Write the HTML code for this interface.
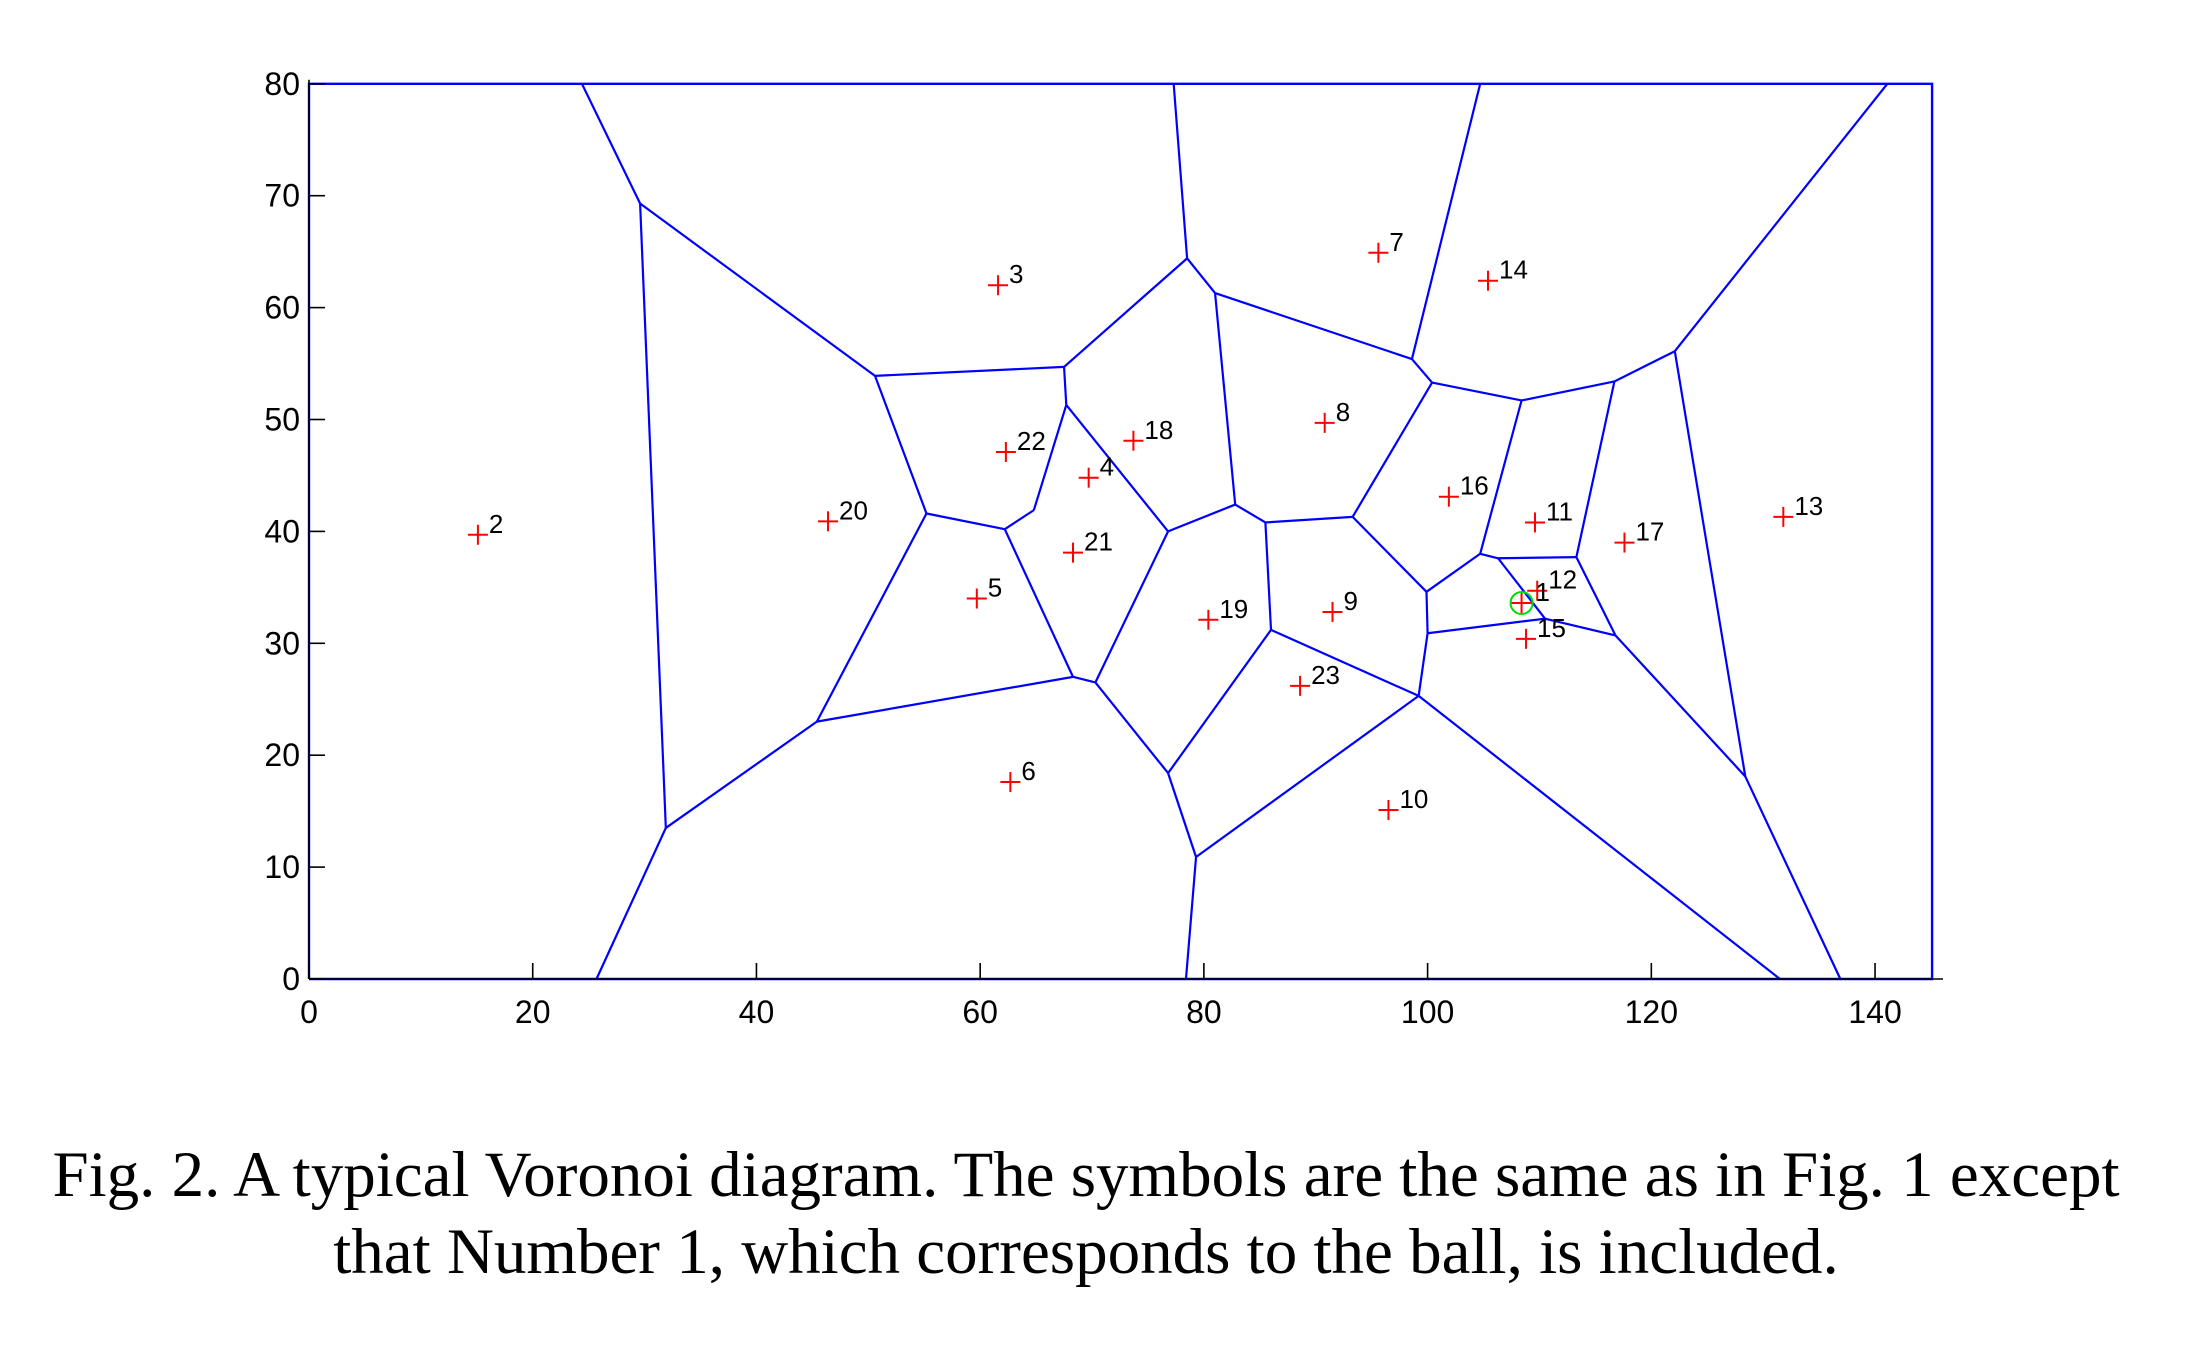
<!DOCTYPE html>
<html><head><meta charset="utf-8"><style>
html,body{margin:0;padding:0;background:#fff;}
svg{display:block;}
</style></head><body>
<svg id="chart" width="2186" height="1360" viewBox="0 0 2186 1360" xmlns="http://www.w3.org/2000/svg">
<g id="edges"></g>
<g id="axes"></g>
<g id="pts"></g>
<text x="1086" y="1196" text-anchor="middle" font-family="Liberation Serif, serif" font-size="65">Fig. 2.  A typical Voronoi diagram. The symbols are the same as in Fig. 1 except</text>
<text x="1086" y="1273" text-anchor="middle" font-family="Liberation Serif, serif" font-size="65">that Number 1, which corresponds to the ball, is included.</text>
</svg>
<script>
const xTicks=[0,20,40,60,80,100,120,140];
const yTicks=[0,10,20,30,40,50,60,70,80];
const pointIds=[2,3,4,5,6,7,8,9,10,11,12,13,14,15,16,17,18,19,20,21,22,23,1];
const pointX=[15.1,61.6,69.7,59.7,62.7,95.6,90.8,91.5,96.5,109.6,109.8,131.8,105.4,108.8,101.9,117.6,73.7,80.4,46.4,68.3,62.3,88.6,108.4];
const pointY=[39.7,62.0,44.8,34.0,17.6,64.9,49.7,32.8,15.1,40.8,34.7,41.3,62.4,30.4,43.1,39.0,48.1,32.1,40.9,38.1,47.1,26.2,33.6];
const vName=["A","B","C","D","E","F","G","H","I","J","K","L","M","N","O","P","Q","R","S","T","U","V","W","X","Y","Z","AA","AB","AC","AD","AE","AF","AG","AH","AI","AJ","AK","AL","AM","AN","AO","AP"];
const vX=[24.4,29.6,50.6,67.5,78.5,77.3,81.0,98.6,104.7,100.4,108.4,116.7,122.1,141.1,67.7,64.8,62.2,55.2,76.8,82.8,85.5,93.3,99.9,104.7,113.3,106.3,110.5,100.0,116.8,99.2,86.0,76.8,70.3,68.3,45.4,31.9,25.7,79.3,78.4,128.4,131.5,136.9];
const vY=[80,69.3,53.9,54.7,64.4,80,61.3,55.4,80,53.3,51.7,53.4,56.1,80,51.3,41.9,40.2,41.6,40.0,42.4,40.8,41.3,34.6,38.0,37.7,37.6,32.2,30.9,30.7,25.3,31.2,18.4,26.5,27.0,23.0,13.5,0,10.9,0,18.1,0,0];
const edgeList=["A-B","B-C","B-AJ","C-D","C-R","D-E","D-O","E-F","E-G","G-H","G-T","H-I","H-J","J-K","J-V","K-L","K-X","L-M","L-Y","M-N","M-AN","O-P","O-S","P-Q","Q-R","Q-AH","R-AI","S-T","S-AG","T-U","U-V","U-AE","V-W","W-X","W-AB","X-Z","Z-Y","Y-AC","Z-AA","AA-AB","AA-AC","AB-AD","AC-AN","AD-AE","AD-AL","AD-AO","AE-AF","AF-AG","AF-AL","AG-AH","AH-AI","AI-AJ","AJ-AK","AL-AM","AN-AP"];
const xMax=145.1;
const sx=v=>309+v*11.186;
const sy=v=>979-v*11.19;
const NS="http://www.w3.org/2000/svg";
function mk(tag,at,parent){const e=document.createElementNS(NS,tag);for(const k in at)e.setAttribute(k,at[k]);parent.appendChild(e);return e;}
const eg=document.getElementById('edges'),ag=document.getElementById('axes'),pg=document.getElementById('pts');
edgeList.forEach(s=>{const [a,b]=s.split('-');const i=vName.indexOf(a),j=vName.indexOf(b);
 const l=mk('line',{x1:sx(vX[i]),y1:sy(vY[i]),x2:sx(vX[j]),y2:sy(vY[j]),stroke:'#0000ff','stroke-width':2.2},eg);
 
 });
const bb=mk('polyline',{points:`${sx(0)},${sy(0)} ${sx(0)},${sy(80)} ${sx(xMax)},${sy(80)} ${sx(xMax)},${sy(0)} ${sx(0)},${sy(0)}`,fill:'none',stroke:'#0000ff','stroke-width':2.4},eg);


const xa=mk('line',{x1:sx(0),y1:sy(0),x2:1943,y2:sy(0),stroke:'#000','stroke-width':1.6},ag);


const ya=mk('line',{x1:sx(0),y1:sy(0),x2:sx(0),y2:sy(80)-4,stroke:'#000','stroke-width':1.6},ag);


xTicks.forEach(t=>{const tk=mk('line',{x1:sx(t),y1:sy(0),x2:sx(t),y2:sy(0)-16,stroke:'#000','stroke-width':1.6},ag);
 
 
 const tx=mk('text',{x:sx(t),y:1023,'text-anchor':'middle','font-family':'Liberation Sans, sans-serif','font-size':32},ag);tx.textContent=t;
 
 });
yTicks.forEach(t=>{const tk=mk('line',{x1:sx(0),y1:sy(t),x2:sx(0)+16,y2:sy(t),stroke:'#000','stroke-width':1.6},ag);
 
 
 const tx=mk('text',{x:300,y:sy(t)+11,'text-anchor':'end','font-family':'Liberation Sans, sans-serif','font-size':32},ag);tx.textContent=t;
 
 });
pointIds.forEach((id,k)=>{const x=sx(pointX[k]),y=sy(pointY[k]);
 const g=mk('g',{},pg);
 
 
 if(id===1){const c=mk('circle',{cx:x,cy:y,r:11,fill:'none',stroke:'#00dd00','stroke-width':2},g);
  
  }
 mk('line',{x1:x-10,y1:y,x2:x+10,y2:y,stroke:'#ff0000','stroke-width':2},g);
 mk('line',{x1:x,y1:y-10,x2:x,y2:y+10,stroke:'#ff0000','stroke-width':2},g);
 const t=mk('text',{x:x+(id===1?14:11),y:y-2,'font-family':'Liberation Sans, sans-serif','font-size':26},g);t.textContent=id;
 
 });
</script>
</body></html>
